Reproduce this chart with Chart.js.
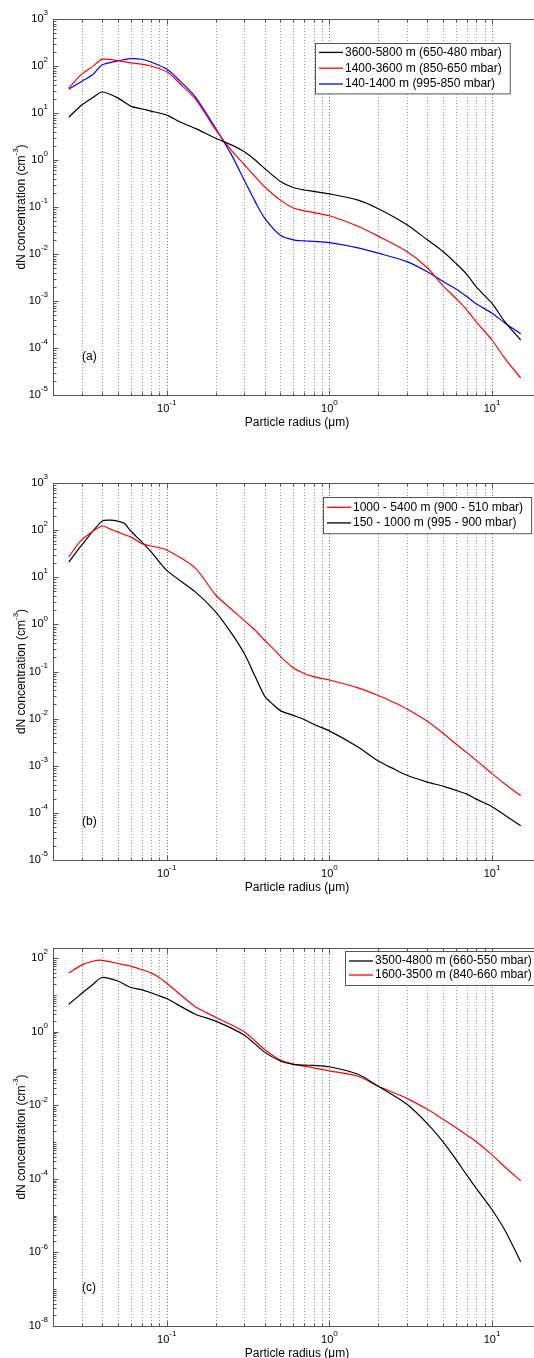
<!DOCTYPE html>
<html>
<head>
<meta charset="utf-8">
<script src="https://cdn.jsdelivr.net/npm/chart.js@4.4.0/dist/chart.umd.min.js"></script>
<style>
  html, body { margin: 0; padding: 0; background: #fff; overflow: hidden; }
  #page { position: relative; width: 534px; height: 1358px; overflow: hidden; }
  canvas { position: absolute; left: 0; }
</style>
</head>
<body>
<div id="page">
  <canvas id="chartA" width="545" height="440" style="top:0px"></canvas>
  <canvas id="chartB" width="545" height="460" style="top:440px"></canvas>
  <canvas id="chartC" width="545" height="458" style="top:900px"></canvas>
</div>
<script>
// (a) three altitude layers
const radiusA = [0.025, 0.03, 0.035, 0.04, 0.05, 0.06, 0.07, 0.08, 0.1, 0.12, 0.15, 0.2, 0.25, 0.3, 0.35, 0.4, 0.5, 0.6, 0.7, 0.8, 1, 1.5, 2, 3, 4, 5, 6, 7, 8, 10, 12, 15];
const highA = [8.1, 14.8, 21, 28, 21, 14, 12.3, 11, 9, 6.5, 4.7, 2.9, 2.1, 1.5, 1.0, 0.66, 0.35, 0.26, 0.23, 0.215, 0.19, 0.14, 0.092, 0.042, 0.020, 0.0113, 0.0063, 0.0037, 0.0020, 0.00089, 0.00036, 0.000148];
const midA = [34, 67, 97, 138, 130, 117, 110, 100, 76, 43, 20, 4.4, 1.6, 0.8, 0.44, 0.27, 0.14, 0.095, 0.083, 0.076, 0.065, 0.039, 0.024, 0.0113, 0.0051, 0.0021, 0.00114, 0.00065, 0.00036, 0.000148, 0.00006, 0.000023];
const lowA = [32, 47, 65, 105, 128, 143, 139, 122, 86, 49, 22, 4.7, 1.3, 0.37, 0.13, 0.058, 0.025, 0.020, 0.019, 0.0185, 0.0174, 0.0135, 0.0104, 0.0069, 0.0042, 0.0026, 0.0018, 0.00124, 0.00087, 0.00055, 0.00034, 0.0002];
const labelsA = ['3600-5800 m (650-480 mbar)', '1400-3600 m (850-650 mbar)', '140-1400 m (995-850 mbar)'];

// (b) two layers
const radiusB = [0.025, 0.03, 0.04, 0.045, 0.05, 0.055, 0.06, 0.07, 0.08, 0.1, 0.15, 0.2, 0.25, 0.3, 0.35, 0.4, 0.45, 0.5, 0.6, 0.7, 0.8, 1, 1.5, 2, 2.5, 3, 4, 5, 6, 7, 8, 10, 12, 15];
const upperB = [27, 62, 122, 105, 92, 80, 72, 52, 46, 38, 15.6, 4.2, 2.1, 1.2, 0.75, 0.46, 0.31, 0.21, 0.12, 0.091, 0.078, 0.066, 0.045, 0.031, 0.022, 0.016, 0.0088, 0.0049, 0.0029, 0.0019, 0.0013, 0.00068, 0.00041, 0.00023];
const lowerB = [21, 48, 155, 163, 155, 138, 97, 57, 35, 14, 4.9, 1.85, 0.65, 0.24, 0.078, 0.030, 0.02, 0.0148, 0.0117, 0.0096, 0.0076, 0.0055, 0.0025, 0.00126, 0.00085, 0.00063, 0.00045, 0.00037, 0.0003, 0.00025, 0.000196, 0.000135, 0.000089, 0.000053];
const labelsB = ['1000 - 5400 m (900 - 510 mbar)', '150 - 1000 m (995 - 900 mbar)'];

// (c) two layers
const radiusC = [0.025, 0.03, 0.035, 0.04, 0.05, 0.06, 0.07, 0.08, 0.09, 0.1, 0.15, 0.2, 0.3, 0.4, 0.5, 0.6, 0.7, 0.8, 1, 1.5, 2, 3, 4, 5, 6, 7, 8, 10, 12, 15];
const upperC = [5.6, 11, 19, 30, 24, 16, 14, 11.5, 9.5, 8, 3.0, 1.95, 0.81, 0.28, 0.16, 0.13, 0.124, 0.122, 0.112, 0.07, 0.033, 0.0107, 0.0032, 0.00102, 0.00034, 0.000126, 0.000055, 0.0000145, 0.000004, 0.00000056];
const lowerC = [40, 65, 83, 88, 72, 61, 49, 40, 30, 21, 4.8, 2.5, 1.0, 0.33, 0.17, 0.132, 0.116, 0.105, 0.087, 0.062, 0.033, 0.0155, 0.0078, 0.0042, 0.0025, 0.00155, 0.00102, 0.00045, 0.00021, 0.000089];
const labelsC = ['3500-4800 m (660-550 mbar)', '1600-3500 m (840-660 mbar)'];

// tick exponents
const xTickExp = [-1, 0, 1];
const yTickExpAB = [-5, -4, -3, -2, -1, 0, 1, 2, 3];
const yTickExpC = [-8, -6, -4, -2, 0, 2];

const fontFamily = '"Liberation Sans", Arial, Helvetica, sans-serif';
const tickFont = '11px ' + fontFamily;
const supFont = '8px ' + fontFamily;
const titleFont = '12px ' + fontFamily;

function toPoints(xs, ys) {
  return xs.map((x, i) => ({ x: x, y: ys[i] }));
}

// 1..9 x 10^k between min and max (open interval)
function logSteps(min, max) {
  const out = [];
  for (let k = Math.floor(Math.log10(min)); k <= Math.ceil(Math.log10(max)); k++) {
    for (let m = 1; m <= 9; m++) {
      const v = m * Math.pow(10, k);
      if (v > min * 1.0001 && v < max * 0.9999) out.push({ v: v, m: m, k: k });
    }
  }
  return out;
}

function drawPower(ctx, exp, x, y, align) {
  ctx.font = tickFont;
  const wb = ctx.measureText('10').width;
  ctx.font = supFont;
  const we = ctx.measureText(String(exp)).width;
  const left = align === 'right' ? x - wb - we : x - (wb + we) / 2;
  ctx.textAlign = 'left';
  ctx.textBaseline = 'middle';
  ctx.font = tickFont;
  ctx.fillText('10', left, y);
  ctx.font = supFont;
  ctx.fillText(String(exp), left + wb, y - 6);
}

const axesPlugin = {
  id: 'axesPlugin',
  beforeDatasetsDraw(chart) {
    const { ctx, chartArea: a, scales } = chart;
    ctx.save();
    ctx.lineWidth = 1;
    ctx.setLineDash([1, 2]);
    logSteps(scales.x.min, scales.x.max).forEach(t => {
      const px = Math.round(scales.x.getPixelForValue(t.v)) + 0.5;
      ctx.strokeStyle = t.m === 1 ? '#7a7a7a' : '#9a9a9a';
      ctx.beginPath();
      ctx.moveTo(px, a.top);
      ctx.lineTo(px, a.bottom);
      ctx.stroke();
    });
    ctx.restore();
  },
  afterDatasetsDraw(chart, args, opts) {
    const { ctx, chartArea: a, scales } = chart;
    const x = scales.x, y = scales.y;
    const left = Math.round(a.left) + 0.5, top = Math.round(a.top) + 0.5;
    const bottom = Math.round(a.bottom) + 0.5, right = Math.round(a.right) + 0.5;
    ctx.save();
    ctx.setLineDash([]);
    ctx.lineWidth = 1;
    ctx.strokeStyle = '#555';
    ctx.strokeRect(left, top, right - left, bottom - top);

    // x tick marks, bottom and top
    ctx.beginPath();
    logSteps(x.min, x.max).forEach(t => {
      const px = Math.round(x.getPixelForValue(t.v)) + 0.5;
      const len = t.m === 1 ? 5 : 3;
      ctx.moveTo(px, bottom); ctx.lineTo(px, bottom - len);
      ctx.moveTo(px, top); ctx.lineTo(px, top + len);
    });
    // y tick marks on the left
    logSteps(y.min, y.max).forEach(t => {
      const py = Math.round(y.getPixelForValue(t.v)) + 0.5;
      const len = (t.m === 1 && opts.yExp.includes(t.k)) ? 5 : 3;
      ctx.moveTo(left, py); ctx.lineTo(left + len, py);
    });
    ctx.stroke();

    ctx.fillStyle = '#000';
    opts.yExp.forEach(e => drawPower(ctx, e, a.left - 5, y.getPixelForValue(Math.pow(10, e)), 'right'));
    xTickExp.forEach(e => drawPower(ctx, e, x.getPixelForValue(Math.pow(10, e)), a.bottom + 14, 'center'));

    // axis titles
    ctx.font = titleFont;
    ctx.textAlign = 'center';
    ctx.textBaseline = 'middle';
    ctx.fillText('Particle radius (\u03bcm)', (a.left + a.right) / 2, a.bottom + 28);

    ctx.save();
    ctx.translate(22, (a.top + a.bottom) / 2);
    ctx.rotate(-Math.PI / 2);
    ctx.textAlign = 'left';
    const p1 = 'dN concentration (cm', p2 = '-3', p3 = ')';
    ctx.font = titleFont;
    const w1 = ctx.measureText(p1).width, w3 = ctx.measureText(p3).width;
    ctx.font = supFont;
    const w2 = ctx.measureText(p2).width;
    let sx = -(w1 + w2 + w3) / 2;
    ctx.font = titleFont;
    ctx.fillText(p1, sx, 0);
    ctx.font = supFont;
    ctx.fillText(p2, sx + w1, -6);
    ctx.font = titleFont;
    ctx.fillText(p3, sx + w1 + w2, 0);
    ctx.restore();

    // panel tag
    ctx.font = titleFont;
    ctx.textAlign = 'left';
    ctx.fillText(opts.tag, a.left + 29, a.bottom - 38);

    // legend box
    const lg = opts.legend;
    const sets = chart.data.datasets;
    ctx.font = titleFont;
    const tw = Math.max(...sets.map(d => ctx.measureText(d.label).width));
    const bw = tw + 38, bh = lg.rowH * sets.length + lg.pad * 2;
    ctx.fillStyle = '#fff';
    ctx.fillRect(lg.x + 0.5, lg.y + 0.5, bw, bh);
    ctx.strokeStyle = '#555';
    ctx.strokeRect(lg.x + 0.5, lg.y + 0.5, bw, bh);
    sets.forEach((d, i) => {
      const ry = lg.y + lg.pad + lg.rowH * (i + 0.5);
      ctx.strokeStyle = d.borderColor;
      ctx.lineWidth = 1.3;
      ctx.beginPath();
      ctx.moveTo(lg.x + 4, ry);
      ctx.lineTo(lg.x + 28, ry);
      ctx.stroke();
      ctx.fillStyle = '#000';
      ctx.fillText(d.label, lg.x + 30, ry);
    });
    ctx.restore();
  }
};

function makePanel(id, sets, yMin, yMax, pad, panelOpts) {
  return new Chart(document.getElementById(id), {
    type: 'line',
    data: {
      datasets: sets.map(s => ({
        label: s.label,
        data: s.data,
        borderColor: s.color,
        borderWidth: 1.2,
        pointRadius: 0,
        tension: 0.25,
        fill: false
      }))
    },
    options: {
      responsive: false,
      animation: false,
      devicePixelRatio: 1,
      layout: { padding: pad },
      plugins: {
        legend: { display: false },
        tooltip: { enabled: false },
        axesPlugin: panelOpts
      },
      scales: {
        x: { type: 'logarithmic', min: 0.02, max: 20, display: false },
        y: { type: 'logarithmic', min: yMin, max: yMax, display: false }
      }
    },
    plugins: [axesPlugin]
  });
}

makePanel('chartA', [
  { label: labelsA[0], data: toPoints(radiusA, highA), color: '#000000' },
  { label: labelsA[1], data: toPoints(radiusA, midA), color: '#ff0000' },
  { label: labelsA[2], data: toPoints(radiusA, lowA), color: '#0000ff' }
], 1e-5, 1e3, { left: 53, top: 19, right: 4, bottom: 45 },
  { yExp: yTickExpAB, tag: '(a)', legend: { x: 315, y: 43, rowH: 15.8, pad: 1.5 } });

makePanel('chartB', [
  { label: labelsB[0], data: toPoints(radiusB, upperB), color: '#ff0000' },
  { label: labelsB[1], data: toPoints(radiusB, lowerB), color: '#000000' }
], 1e-5, 1e3, { left: 53, top: 43, right: 4, bottom: 40 },
  { yExp: yTickExpAB, tag: '(b)', legend: { x: 323, y: 57, rowH: 15.6, pad: 2.5 } });

makePanel('chartC', [
  { label: labelsC[0], data: toPoints(radiusC, upperC), color: '#000000' },
  { label: labelsC[1], data: toPoints(radiusC, lowerC), color: '#ff0000' }
], 1e-8, 190, { left: 53, top: 48, right: 4, bottom: 32 },
  { yExp: yTickExpC, tag: '(c)', legend: { x: 345, y: 51, rowH: 14, pad: 3 } });
</script>
</body>
</html>
